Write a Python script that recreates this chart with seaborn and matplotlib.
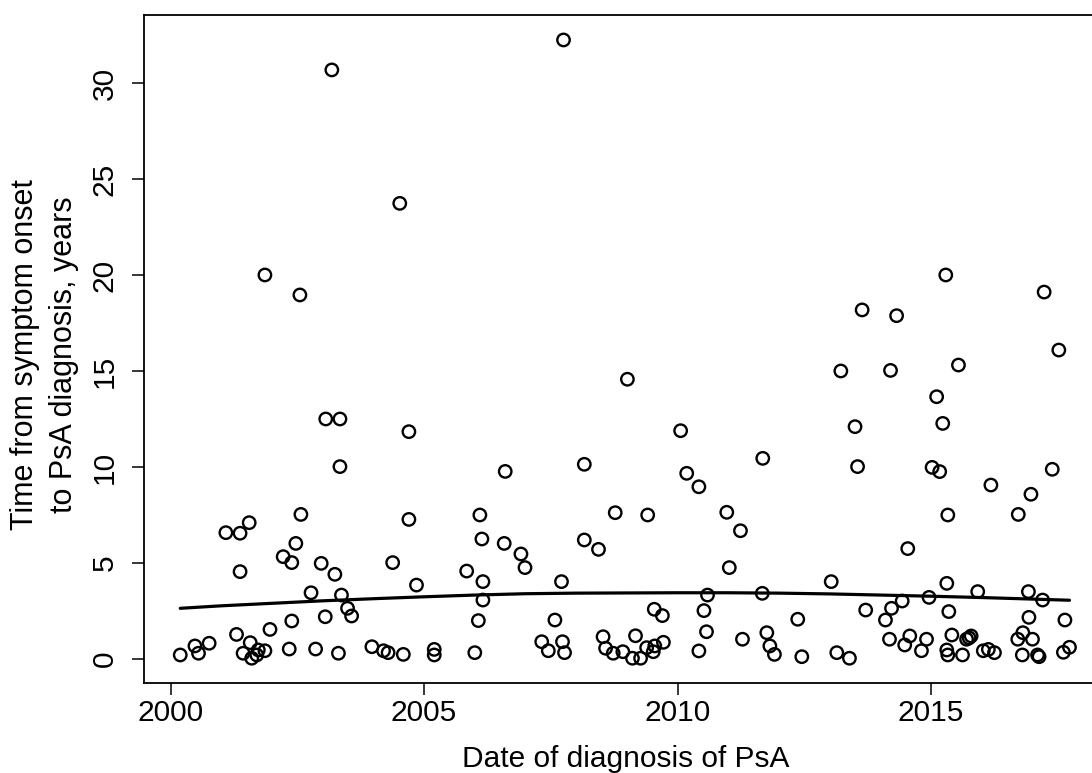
import matplotlib
matplotlib.use("Agg")
import matplotlib.pyplot as plt
import seaborn as sns
import pandas as pd

# ---- data ----
diag_year = [
    2000.19, 2000.48, 2000.55, 2000.76, 2001.09, 2001.30, 2001.37, 2001.37, 2001.43, 2001.55,
    2001.57, 2001.60, 2001.70, 2001.73, 2001.86, 2001.86, 2001.96, 2002.22, 2002.34, 2002.39,
    2002.39, 2002.47, 2002.55, 2002.57, 2002.77, 2002.86, 2002.97, 2003.05, 2003.06, 2003.18,
    2003.24, 2003.31, 2003.34, 2003.34, 2003.37, 2003.49, 2003.57, 2003.97, 2004.20, 2004.29,
    2004.38, 2004.52, 2004.59, 2004.70, 2004.70, 2004.85, 2005.20, 2005.20, 2005.84, 2006.00,
    2006.07, 2006.10, 2006.14, 2006.16, 2006.16, 2006.58, 2006.60, 2006.91, 2006.99, 2007.32,
    2007.45, 2007.58, 2007.71, 2007.73, 2007.75, 2007.77, 2008.16, 2008.16, 2008.44, 2008.53,
    2008.58, 2008.73, 2008.77, 2008.92, 2009.01, 2009.11, 2009.17, 2009.27, 2009.39, 2009.41,
    2009.52, 2009.54, 2009.55, 2009.70, 2009.72, 2010.06, 2010.18, 2010.42, 2010.42, 2010.52,
    2010.57, 2010.59, 2010.97, 2011.02, 2011.24, 2011.28, 2011.67, 2011.68, 2011.76, 2011.82,
    2011.91, 2012.37, 2012.45, 2013.03, 2013.14, 2013.22, 2013.39, 2013.50, 2013.55, 2013.64,
    2013.71, 2014.10, 2014.18, 2014.20, 2014.22, 2014.32, 2014.43, 2014.48, 2014.54, 2014.58,
    2014.81, 2014.91, 2014.96, 2015.02, 2015.11, 2015.17, 2015.23, 2015.29, 2015.31, 2015.31,
    2015.33, 2015.33, 2015.35, 2015.41, 2015.54, 2015.62, 2015.70, 2015.75, 2015.79, 2015.92,
    2016.03, 2016.13, 2016.18, 2016.25, 2016.71, 2016.72, 2016.80, 2016.81, 2016.92, 2016.93,
    2016.97, 2017.00, 2017.10, 2017.13, 2017.20, 2017.23, 2017.39, 2017.52, 2017.61, 2017.64,
    2017.73,
]
delay_years = [
    0.21, 0.68, 0.30, 0.82, 6.58, 1.28, 6.55, 4.55, 0.30, 7.10,
    0.85, 0.04, 0.21, 0.47, 0.43, 20.0, 1.54, 5.33, 0.52, 5.02,
    1.98, 6.02, 18.96, 7.53, 3.45, 0.52, 4.98, 2.20, 12.5, 30.68,
    4.41, 0.30, 12.5, 10.02, 3.33, 2.64, 2.24, 0.64, 0.43, 0.33,
    5.02, 23.73, 0.24, 11.84, 7.27, 3.85, 0.50, 0.21, 4.58, 0.33,
    2.00, 7.50, 6.25, 4.03, 3.07, 6.02, 9.77, 5.47, 4.76, 0.90,
    0.43, 2.03, 4.03, 0.90, 32.24, 0.33, 10.14, 6.20, 5.71, 1.16,
    0.56, 0.30, 7.62, 0.38, 14.57, 0.04, 1.21, 0.04, 0.59, 7.50,
    0.38, 2.59, 0.68, 2.26, 0.87, 11.89, 9.67, 8.97, 0.42, 2.52,
    1.42, 3.33, 7.64, 4.76, 6.68, 1.03, 3.42, 10.45, 1.37, 0.68,
    0.24, 2.07, 0.12, 4.03, 0.33, 15.0, 0.04, 12.1, 10.02, 18.18,
    2.55, 2.03, 1.03, 15.03, 2.64, 17.88, 3.02, 0.73, 5.75, 1.20,
    0.43, 1.03, 3.21, 9.98, 13.66, 9.76, 12.27, 20.0, 3.94, 0.47,
    7.50, 0.21, 2.47, 1.25, 15.31, 0.21, 1.03, 1.10, 1.20, 3.51,
    0.43, 0.50, 9.06, 0.33, 1.03, 7.53, 0.21, 1.37, 3.51, 2.17,
    8.58, 1.03, 0.21, 0.12, 3.07, 19.11, 9.88, 16.09, 0.35, 2.03,
    0.61,
]
# smoothed trend curve
smooth_x = [2000.19, 2001.0, 2002.0, 2003.0, 2004.0, 2005.0, 2006.0, 2007.0, 2008.0,
            2009.0, 2010.0, 2011.0, 2012.0, 2013.0, 2014.0, 2015.0, 2016.0, 2017.0, 2017.73]
smooth_y = [2.64, 2.77, 2.90, 3.03, 3.14, 3.24, 3.33, 3.40, 3.43,
            3.44, 3.45, 3.45, 3.43, 3.39, 3.33, 3.27, 3.20, 3.12, 3.06]

x_ticks = [2000, 2005, 2010, 2015]
y_ticks = [0, 5, 10, 15, 20, 25, 30]
x_label = "Date of diagnosis of PsA"
y_label = "Time from symptom onset\nto PsA diagnosis, years"

pts = pd.DataFrame({"year": diag_year, "delay": delay_years})
trend = pd.DataFrame({"year": smooth_x, "delay": smooth_y})

sns.set_theme(style="white")
plt.rcParams["font.family"] = ["Liberation Sans", "DejaVu Sans"]

FS = 21.5

fig = plt.figure(figsize=(10.92, 7.73), dpi=100)
ax = fig.add_axes([144.2 / 1092, 90 / 773, (1107 - 144.2) / 1092, 668 / 773])

sns.scatterplot(data=pts, x="year", y="delay", ax=ax, marker="o", s=80,
                facecolor="none", edgecolor="black", linewidth=1.7, zorder=3)
sns.lineplot(data=trend, x="year", y="delay", ax=ax, color="black",
             linewidth=2.3, sort=False, estimator=None, zorder=4)

ax.set_xlim(1999.479, 2018.47)
ax.set_ylim(-1.25, 33.54)
ax.set_xticks(x_ticks)
ax.set_yticks(y_ticks)
ax.set_xticklabels([str(t) for t in x_ticks])
ax.set_yticklabels([str(t) for t in y_ticks], rotation=90, va="center")

for sp in ax.spines.values():
    sp.set_visible(True)
    sp.set_color("black")
    sp.set_linewidth(1.3)

ax.tick_params(axis="both", which="major", direction="out", length=8.5, width=1.1,
               color="black", labelsize=FS, labelcolor="black", left=True, bottom=True)
ax.tick_params(axis="x", pad=3)
ax.tick_params(axis="y", pad=10)

ax.set_xlabel(x_label, fontsize=FS, color="black")
ax.xaxis.set_label_coords(0.5, -0.093)
ax.set_ylabel(y_label, fontsize=22, color="black", linespacing=1.42,
              ha="center", va="center")
ax.yaxis.set_label_coords(-0.1036, 0.491)
ax.grid(False)

fig.savefig("out.png", dpi=100, facecolor="white")
